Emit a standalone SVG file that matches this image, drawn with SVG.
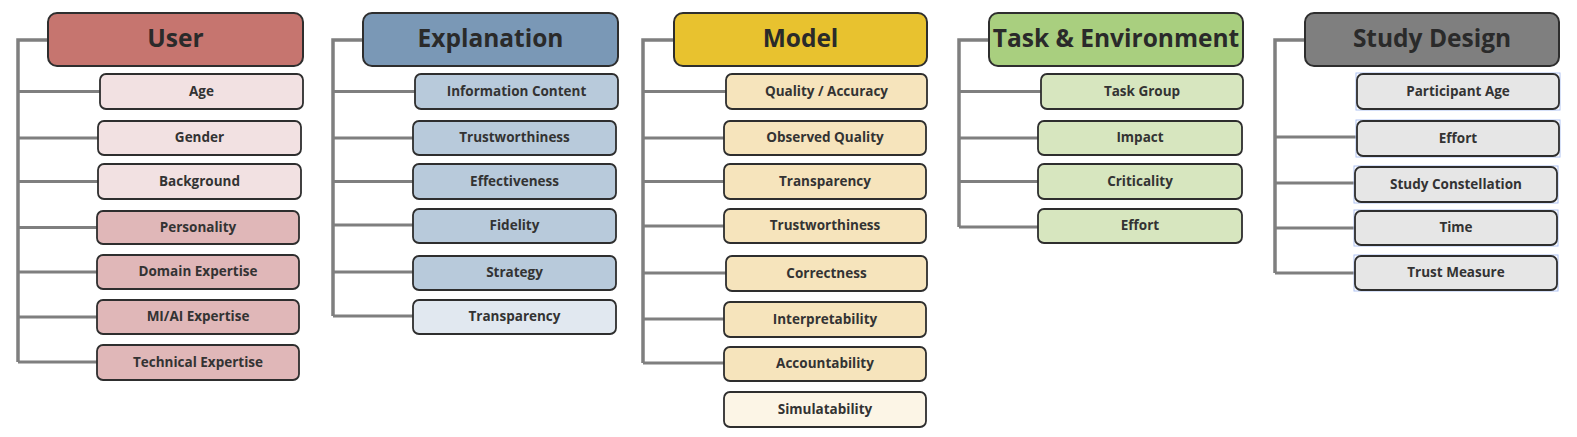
<svg xmlns="http://www.w3.org/2000/svg" width="1577" height="437" viewBox="0 0 1577 437">
<style>
.hdr{stroke:#2e2e2e;stroke-width:2}
.ch{stroke:#2e2e2e;stroke-width:1.8}
.ht{font-family:"Open Sans","Liberation Sans",sans-serif;font-weight:700;font-size:24.5px;fill:#2a2a2a;text-anchor:middle;dominant-baseline:central}
.ct{font-family:"Open Sans","Liberation Sans",sans-serif;font-weight:700;font-size:13.5px;fill:#333;text-anchor:middle;dominant-baseline:central}
.con{fill:none;stroke:#7f7f7f;stroke-width:3.5;stroke-linejoin:miter}
.br{fill:none;stroke:#7f7f7f;stroke-width:3}
.u1{fill:#c6756f}.u2{fill:#f2e1e2}.u3{fill:#e0b7b8}
.e1{fill:#7a98b6}.e2{fill:#b8cadb}.e3{fill:#e1e8f0}
.m1{fill:#e8c22f}.m2{fill:#f6e4bc}.m3{fill:#fcf5e6}
.t1{fill:#a9cf7f}.t2{fill:#d7e6bf}
.s1{fill:#7f7f7f}.s2{fill:#e6e6e6}
.sel{fill:none;stroke:#aec2f2;stroke-width:1}
</style>
<g id="connectors">
<path class="con" d="M48,40 H18 V362"/>
<path class="br" d="M18,91.5 H100 M18,138 H98 M18,181.5 H98 M18,227.5 H97 M18,272 H97 M18,317 H97 M18,362 H97"/>
<path class="con" d="M363,40 H333 V316"/>
<path class="br" d="M333,91.5 H415 M333,138 H413 M333,181.5 H413 M333,225 H413 M333,272 H413 M333,316 H413"/>
<path class="con" d="M674,40 H643 V363"/>
<path class="br" d="M643,91.5 H726 M643,138 H724 M643,181.5 H724 M643,226 H724 M643,273 H726 M643,319 H724 M643,363 H724"/>
<path class="con" d="M989,40 H959 V227"/>
<path class="br" d="M959,91.5 H1041 M959,138 H1038 M959,181.5 H1038 M959,227 H1038"/>
<path class="con" d="M1305,40 H1275 V273"/>
<path class="br" d="M1275,137 H1357 M1275,183 H1355 M1275,228 H1355 M1275,273 H1355"/>
</g>
<g id="user">
<rect class="hdr u1" x="48" y="13" width="255" height="53" rx="9"/><text class="ht" x="175.5" y="37">User</text>
</g>
<g id="user-age"><rect class="ch u2" x="100" y="74" width="203" height="35" rx="6"/><text class="ct" x="201.5" y="90.5">Age</text></g>
<g id="user-gender"><rect class="ch u2" x="98" y="121" width="203" height="34" rx="6"/><text class="ct" x="199.5" y="137">Gender</text></g>
<g id="user-background"><rect class="ch u2" x="98" y="164" width="203" height="35" rx="6"/><text class="ct" x="199.5" y="180.5">Background</text></g>
<g id="user-personality"><rect class="ch u3" x="97" y="211" width="202" height="33" rx="6"/><text class="ct" x="198" y="226.5">Personality</text></g>
<g id="user-domain"><rect class="ch u3" x="97" y="255" width="202" height="34" rx="6"/><text class="ct" x="198" y="271">Domain Expertise</text></g>
<g id="user-mlai"><rect class="ch u3" x="97" y="300" width="202" height="34" rx="6"/><text class="ct" x="198" y="316">MI/AI Expertise</text></g>
<g id="user-technical"><rect class="ch u3" x="97" y="345" width="202" height="35" rx="6"/><text class="ct" x="198" y="361.5">Technical Expertise</text></g>

<g id="explanation">
<rect class="hdr e1" x="363" y="13" width="255" height="53" rx="9"/><text class="ht" x="490.5" y="37">Explanation</text>
</g>
<g id="exp-info"><rect class="ch e2" x="415" y="74" width="203" height="35" rx="6"/><text class="ct" x="516.5" y="90.5">Information Content</text></g>
<g id="exp-trust"><rect class="ch e2" x="413" y="121" width="203" height="34" rx="6"/><text class="ct" x="514.5" y="137">Trustworthiness</text></g>
<g id="exp-effect"><rect class="ch e2" x="413" y="164" width="203" height="35" rx="6"/><text class="ct" x="514.5" y="180.5">Effectiveness</text></g>
<g id="exp-fidelity"><rect class="ch e2" x="413" y="209" width="203" height="34" rx="6"/><text class="ct" x="514.5" y="225">Fidelity</text></g>
<g id="exp-strategy"><rect class="ch e2" x="413" y="256" width="203" height="34" rx="6"/><text class="ct" x="514.5" y="272">Strategy</text></g>
<g id="exp-transparency"><rect class="ch e3" x="413" y="300" width="203" height="34" rx="6"/><text class="ct" x="514.5" y="316">Transparency</text></g>

<g id="model">
<rect class="hdr m1" x="674" y="13" width="253" height="53" rx="9"/><text class="ht" x="800.5" y="37">Model</text>
</g>
<g id="model-quality"><rect class="ch m2" x="726" y="74" width="201" height="35" rx="6"/><text class="ct" x="826.5" y="90.5">Quality / Accuracy</text></g>
<g id="model-observed"><rect class="ch m2" x="724" y="121" width="202" height="34" rx="6"/><text class="ct" x="825" y="137">Observed Quality</text></g>
<g id="model-transparency"><rect class="ch m2" x="724" y="164" width="202" height="35" rx="6"/><text class="ct" x="825" y="180.5">Transparency</text></g>
<g id="model-trust"><rect class="ch m2" x="724" y="209" width="202" height="34" rx="6"/><text class="ct" x="825" y="225">Trustworthiness</text></g>
<g id="model-correct"><rect class="ch m2" x="726" y="256" width="201" height="35" rx="6"/><text class="ct" x="826.5" y="272.5">Correctness</text></g>
<g id="model-interp"><rect class="ch m2" x="724" y="302" width="202" height="35" rx="6"/><text class="ct" x="825" y="318.5">Interpretability</text></g>
<g id="model-account"><rect class="ch m2" x="724" y="347" width="202" height="34" rx="6"/><text class="ct" x="825" y="363">Accountability</text></g>
<g id="model-simul"><rect class="ch m3" x="724" y="392" width="202" height="35" rx="6"/><text class="ct" x="825" y="408.5">Simulatability</text></g>

<g id="task">
<rect class="hdr t1" x="989" y="13" width="254" height="53" rx="9"/><text class="ht" x="1116" y="37">Task &amp; Environment</text>
</g>
<g id="task-group"><rect class="ch t2" x="1041" y="74" width="202" height="35" rx="6"/><text class="ct" x="1142" y="90.5">Task Group</text></g>
<g id="task-impact"><rect class="ch t2" x="1038" y="121" width="204" height="34" rx="6"/><text class="ct" x="1140" y="137">Impact</text></g>
<g id="task-critical"><rect class="ch t2" x="1038" y="164" width="204" height="35" rx="6"/><text class="ct" x="1140" y="180.5">Criticality</text></g>
<g id="task-effort"><rect class="ch t2" x="1038" y="209" width="204" height="34" rx="6"/><text class="ct" x="1140" y="225">Effort</text></g>

<g id="study">
<rect class="hdr s1" x="1305" y="13" width="254" height="53" rx="9"/><text class="ht" x="1432" y="37">Study Design</text>
</g>
<g id="study-age"><rect class="sel" x="1356" y="73" width="204" height="37"/><rect class="ch s2" x="1357" y="74" width="202" height="35" rx="6"/><text class="ct" x="1458" y="90.5">Participant Age</text></g>
<g id="study-effort"><rect class="sel" x="1356" y="120" width="204" height="37"/><rect class="ch s2" x="1357" y="121" width="202" height="35" rx="6"/><text class="ct" x="1458" y="137.5">Effort</text></g>
<g id="study-constellation"><rect class="sel" x="1354" y="166" width="204" height="37"/><rect class="ch s2" x="1355" y="167" width="202" height="35" rx="6"/><text class="ct" x="1456" y="183.5">Study Constellation</text></g>
<g id="study-time"><rect class="sel" x="1354" y="210" width="204" height="36"/><rect class="ch s2" x="1355" y="211" width="202" height="34" rx="6"/><text class="ct" x="1456" y="227">Time</text></g>
<g id="study-trust"><rect class="sel" x="1354" y="255" width="204" height="36"/><rect class="ch s2" x="1355" y="256" width="202" height="34" rx="6"/><text class="ct" x="1456" y="272">Trust Measure</text></g>
</svg>
